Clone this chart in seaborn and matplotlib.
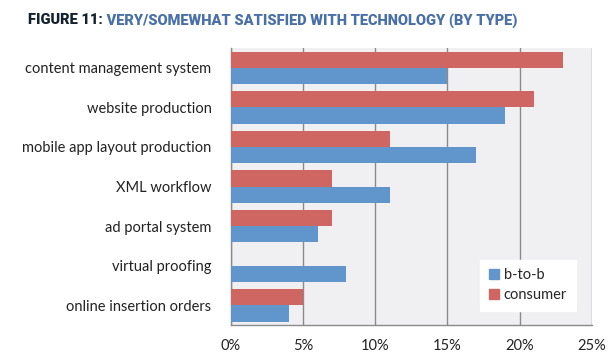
import pandas as pd
import numpy as np
import matplotlib.pyplot as plt
import seaborn as sns
from matplotlib.ticker import PercentFormatter
from matplotlib.patches import Patch

# Data (percent)
categories = ['content management system', 'website production', 'mobile app layout production',
              'XML workflow', 'ad portal system', 'virtual proofing', 'online insertion orders']
consumer = [23, 21, 11, 7, 7, 0, 5]
b_to_b = [15, 19, 17, 11, 6, 8, 4]
series = ['consumer', 'b-to-b']
colors = {'b-to-b': '#6096cc', 'consumer': '#d06661'}

df = pd.DataFrame({
    'category': categories * 2,
    'type': ['consumer'] * len(categories) + ['b-to-b'] * len(categories),
    'value': consumer + b_to_b,
})

sns.set_style('white')
plt.rcParams['font.family'] = ['Lato', 'DejaVu Sans']

fig = plt.figure(figsize=(6.14, 3.58), dpi=100)
ax = fig.add_axes([0.376, 0.092, 0.588, 0.774])
ax.set_facecolor('#f0f0f3')

sns.barplot(data=df, x='value', y='category', hue='type', hue_order=series,
            palette=colors, width=0.82, saturation=1, linewidth=0,
            ax=ax, legend=False, zorder=3)

ax.set_xlim(0, 25)
ax.set_xticks(np.arange(0, 26, 5))
ax.xaxis.set_major_formatter(PercentFormatter(decimals=0))
ax.grid(axis='x', color='#8a8a8a', linewidth=1, zorder=0)
ax.set_axisbelow(True)
ax.set_xlabel('')
ax.set_ylabel('')
ax.tick_params(axis='x', labelsize=10.5, colors='#222222', length=3, color='#8a8a8a', pad=7)
ax.tick_params(axis='y', labelsize=10.5, colors='#222222', length=0, pad=14)

for side in ['top', 'right']:
    ax.spines[side].set_visible(False)
for side in ['left', 'bottom']:
    ax.spines[side].set_color('#8a8a8a')
    ax.spines[side].set_linewidth(1)

handles = [Patch(color=colors['b-to-b'], label='b-to-b'),
           Patch(color=colors['consumer'], label='consumer')]
leg = ax.legend(handles=handles, loc='lower right', bbox_to_anchor=(0.975, 0.025),
                frameon=True, fancybox=False, edgecolor='white', framealpha=1,
                fontsize=10.5, handlelength=0.7, handleheight=0.7, handletextpad=0.3,
                borderpad=0.6, labelspacing=0.4)

title_font = dict(fontsize=10.5, fontweight='heavy', family='Roboto')
t1 = fig.text(0.046, 0.943, 'FIGURE 11:', color='#13202e', va='center', **title_font)
ax.annotate(' VERY/SOMEWHAT SATISFIED WITH TECHNOLOGY (BY TYPE)', xy=(1, 0.5),
            xycoords=t1, va='center', ha='left', color='#4a70a8',
            annotation_clip=False, **title_font)

fig.savefig('out.png', dpi=100)
